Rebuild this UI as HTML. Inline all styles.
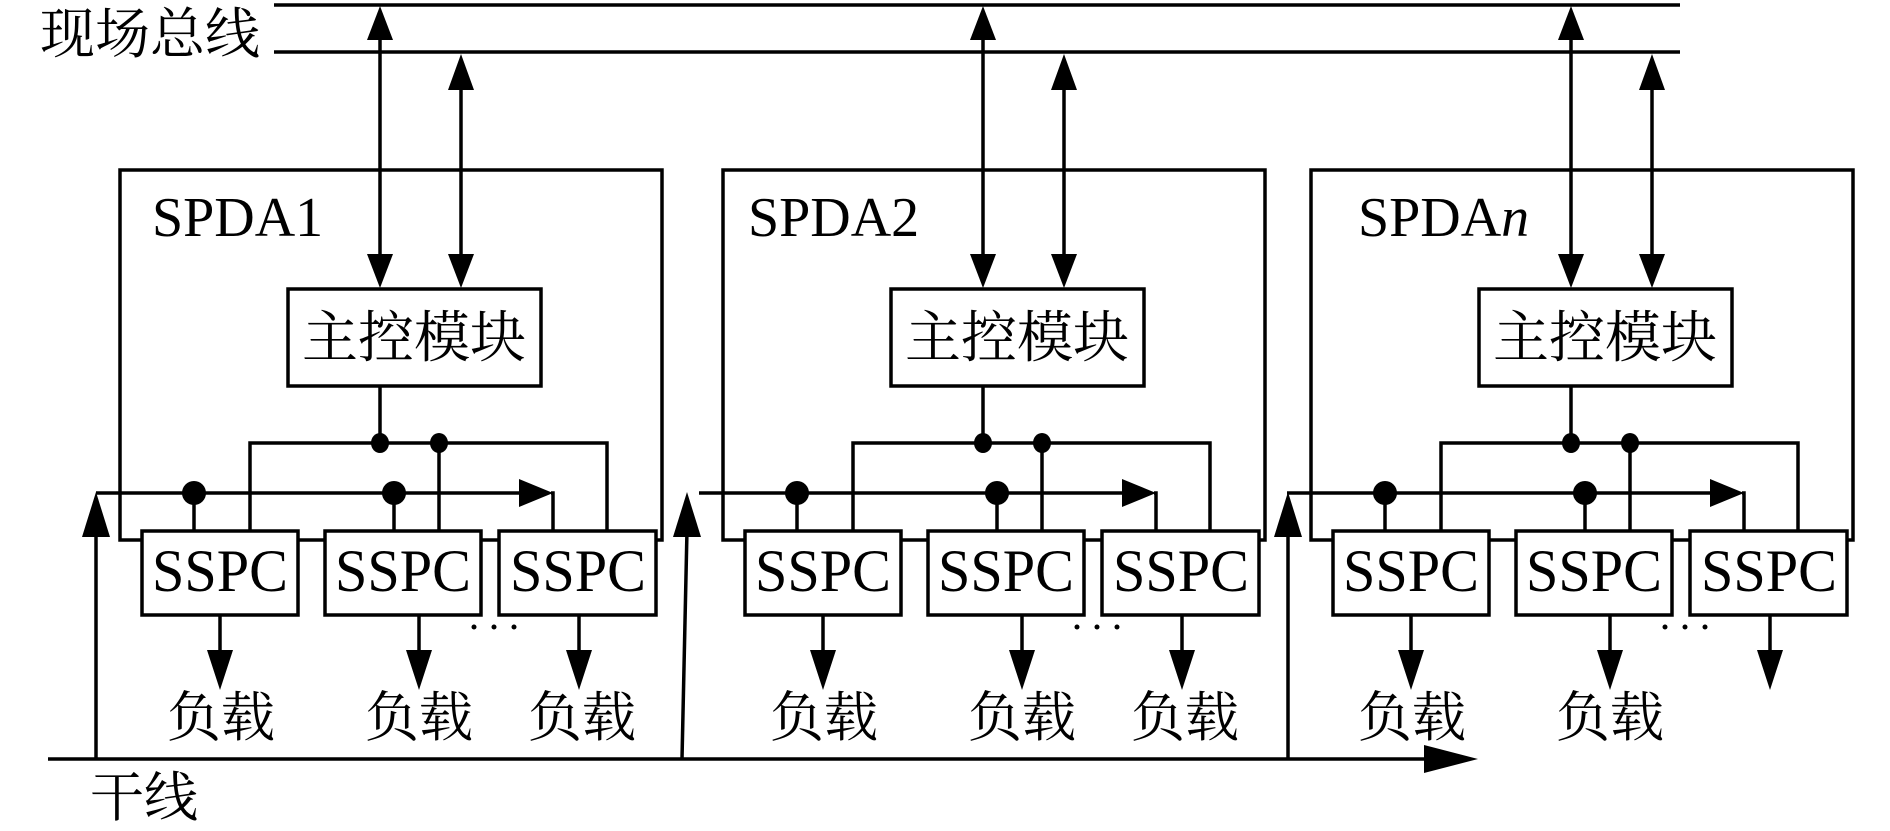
<!DOCTYPE html>
<html><head><meta charset="utf-8"><style>
html,body{margin:0;padding:0;background:#fff;}
svg{display:block;}
.cn{font-family:"Liberation Serif","Noto Serif CJK SC",serif;}
.lt{font-family:"Liberation Serif",serif;}
</style></head><body>
<svg width="1890" height="831" viewBox="0 0 1890 831" xmlns="http://www.w3.org/2000/svg">
<defs>
<g id="panel" stroke="#000" stroke-width="3.5" fill="none">
  <rect x="120" y="170" width="542" height="370"/>
  <line x1="380" y1="34" x2="380" y2="256"/>
  <polygon points="380,6 367,40 393,40" fill="#000" stroke="none"/>
  <polygon points="380,288 367,254 393,254" fill="#000" stroke="none"/>
  <line x1="461" y1="84" x2="461" y2="256"/>
  <polygon points="461,54 448,90 474,90" fill="#000" stroke="none"/>
  <polygon points="461,288 448,254 474,254" fill="#000" stroke="none"/>
  <rect x="288" y="289" width="253" height="97"/>
  <line x1="380" y1="386" x2="380" y2="443"/>
  <polyline points="250,531 250,443 607,443 607,531"/>
  <line x1="439" y1="443" x2="439" y2="531"/>
  <line x1="96" y1="493" x2="520" y2="493"/>
  <polygon points="553,493 519,479 519,507" fill="#000" stroke="none"/>
  <polyline points="551,493 553,493 553,531"/>
  <line x1="194" y1="493" x2="194" y2="531"/>
  <line x1="394" y1="493" x2="394" y2="531"/>
  <rect x="142" y="531" width="156" height="84" fill="#fff"/>
  <rect x="325" y="531" width="156" height="84" fill="#fff"/>
  <rect x="499" y="531" width="157" height="84" fill="#fff"/>
  <line x1="220" y1="615" x2="220" y2="655"/>
  <polygon points="220,690 207,650 233,650" fill="#000" stroke="none"/>
  <line x1="419" y1="615" x2="419" y2="655"/>
  <polygon points="419,690 406,650 432,650" fill="#000" stroke="none"/>
  <line x1="579" y1="615" x2="579" y2="655"/>
  <polygon points="579,690 566,650 592,650" fill="#000" stroke="none"/>
</g>
<g id="dots" fill="#000">
  <ellipse cx="380" cy="443" rx="9" ry="10"/>
  <ellipse cx="439" cy="443" rx="9" ry="10"/>
  <ellipse cx="194" cy="493" rx="12" ry="12"/>
  <ellipse cx="394" cy="493" rx="12" ry="12"/>
  <circle cx="474" cy="627" r="2.5"/><circle cx="494" cy="627" r="2.5"/><circle cx="514" cy="627" r="2.5"/>
</g>
<g id="txt">
  <text x="220" y="591" class="lt" font-size="60" text-anchor="middle" textLength="136" lengthAdjust="spacingAndGlyphs">SSPC</text>
  <text x="403" y="591" class="lt" font-size="60" text-anchor="middle" textLength="136" lengthAdjust="spacingAndGlyphs">SSPC</text>
  <text x="578" y="591" class="lt" font-size="60" text-anchor="middle" textLength="136" lengthAdjust="spacingAndGlyphs">SSPC</text>
  <text x="414" y="357" class="cn" font-size="56" text-anchor="middle">主控模块</text>
</g>
</defs>

<line x1="274" y1="5" x2="1680" y2="5" stroke="#000" stroke-width="3.5"/>
<line x1="274" y1="52" x2="1680" y2="52" stroke="#000" stroke-width="3.5"/>
<text x="40" y="53" class="cn" font-size="55">现场总线</text>

<use href="#panel"/><use href="#dots"/><use href="#txt"/>
<g transform="translate(603,0)"><use href="#panel"/><use href="#dots"/><use href="#txt"/></g>
<g transform="translate(1191,0)"><use href="#panel"/><use href="#dots"/><use href="#txt"/></g>

<text x="152" y="236" class="lt" font-size="56">SPDA1</text>
<text x="748" y="236" class="lt" font-size="56">SPDA2</text>
<text x="1358" y="236" class="lt" font-size="56">SPDA<tspan font-style="italic">n</tspan></text>

<g class="cn" font-size="54" text-anchor="middle">
<text x="221" y="736">负载</text>
<text x="419" y="736">负载</text>
<text x="582" y="736">负载</text>
<text x="824" y="736">负载</text>
<text x="1022" y="736">负载</text>
<text x="1185" y="736">负载</text>
<text x="1412" y="736">负载</text>
<text x="1610" y="736">负载</text>
</g>

<g stroke="#000" stroke-width="3.5" fill="none">
<line x1="48" y1="759" x2="1430" y2="759"/>
<line x1="96" y1="759" x2="96" y2="530"/>
<line x1="682" y1="759" x2="687" y2="530"/>
<line x1="1288" y1="759" x2="1288" y2="530"/>
</g>
<g fill="#000">
<polygon points="1478,759 1424,745 1424,773"/>
<polygon points="96,492 82,537 110,537"/>
<polygon points="687,492 673,537 701,537"/>
<polygon points="1288,492 1274,537 1302,537"/>
</g>
<text x="90" y="816" class="cn" font-size="54">干线</text>
</svg>
</body></html>
